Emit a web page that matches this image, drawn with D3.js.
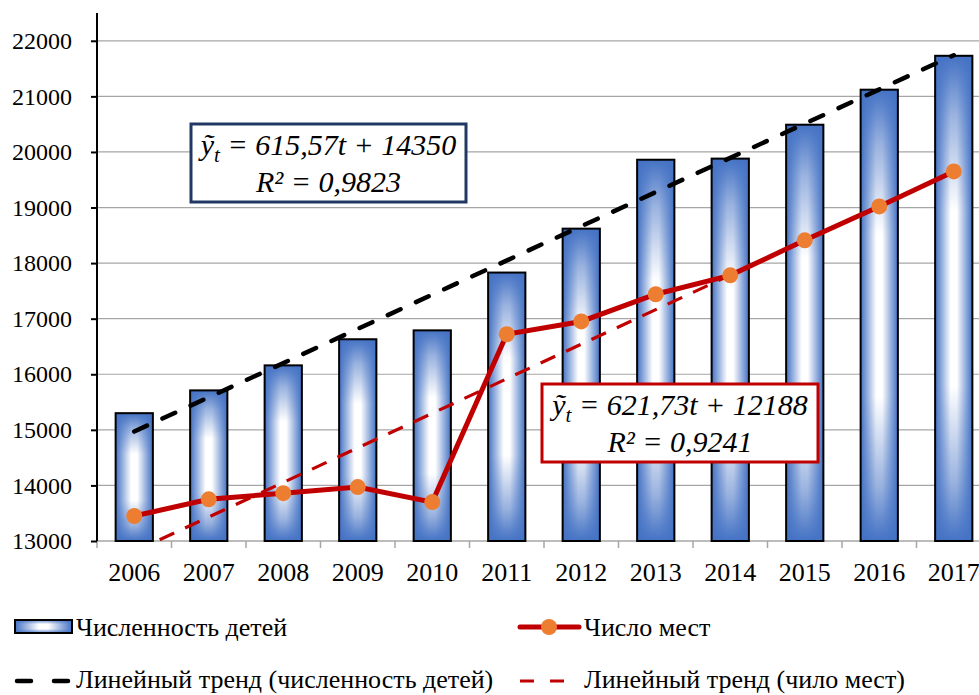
<!DOCTYPE html>
<html>
<head>
<meta charset="utf-8">
<script src="https://cdn.jsdelivr.net/npm/d3@7"></script>
<style>
  body { margin: 0; background: #fff; }
</style>
</head>
<body>
<svg id="chart" width="979" height="695"></svg>
<script>
const svg = d3.select("#chart");

const years = ["2006", "2007", "2008", "2009", "2010", "2011", "2012", "2013", "2014", "2015", "2016", "2017"];
const children = [15300, 15710, 16160, 16630, 16790, 17830, 18620, 19860, 19880, 20490, 21120, 21730];
const places = [13450, 13750, 13860, 13970, 13700, 16720, 16950, 17440, 17780, 18410, 19020, 19650];
// trend line end points (first and last year)
const trendChildren = [14970, 21740];
const trendPlaces = [12810, 19650];
const yTicks = [13000, 14000, 15000, 16000, 17000, 18000, 19000, 20000, 21000, 22000];

const plot = { left: 97, right: 991, top: 13, bottom: 541 };
const blue = "#4472c4";
const FONT = "Liberation Serif";

const x = d3.scaleBand().domain(years).range([plot.left, plot.right]).paddingInner(0.5).paddingOuter(0.25);
const xTick = d3.scaleBand().domain(years).range([plot.left, plot.right]);
const y = d3.scaleLinear().domain([13000, 22500]).range([plot.bottom, plot.top]);
const cx = (yr) => x(yr) + x.bandwidth() / 2;

// gradients: blue edges, white centre
const defs = svg.append("defs");
const gh = defs.append("linearGradient").attr("id", "barH").attr("x1", 0).attr("x2", 1).attr("y1", 0).attr("y2", 0);
[[0, blue], [0.42, "#ffffff"], [0.58, "#ffffff"], [1, blue]].forEach(([o, c]) =>
  gh.append("stop").attr("offset", o).attr("stop-color", c));
const gv = defs.append("linearGradient").attr("id", "barV").attr("x1", 0).attr("x2", 0).attr("y1", 0).attr("y2", 1);
[[0, 1], [0.12, 0.55], [0.32, 0], [0.68, 0], [0.88, 0.55], [1, 1]].forEach(([o, a]) =>
  gv.append("stop").attr("offset", o).attr("stop-color", blue).attr("stop-opacity", a));
defs.append("clipPath").attr("id", "plotClip").append("rect")
  .attr("x", plot.left).attr("y", plot.top).attr("width", 979 - plot.left).attr("height", plot.bottom - plot.top);

// grid
svg.append("g").selectAll("line").data(yTicks.slice(1)).join("line")
  .attr("x1", plot.left).attr("x2", 979)
  .attr("y1", (d) => y(d)).attr("y2", (d) => y(d))
  .attr("stroke", "#a6a6a6").attr("stroke-width", 1.2);

// x axis
const xAxis = svg.append("g").attr("transform", `translate(0,${plot.bottom})`);
xAxis.append("line").attr("x1", plot.left).attr("x2", 979).attr("stroke", "#a6a6a6").attr("stroke-width", 1.5);
xAxis.selectAll("line.tk").data(years).join("line").attr("class", "tk")
  .attr("x1", (d) => xTick(d)).attr("x2", (d) => xTick(d)).attr("y1", 0).attr("y2", 7)
  .attr("stroke", "#a6a6a6").attr("stroke-width", 1.5);
xAxis.selectAll("text").data(years).join("text")
  .attr("x", (d) => cx(d)).attr("y", 40).attr("text-anchor", "middle")
  .attr("font-family", FONT).attr("font-size", 26).attr("fill", "#000").text((d) => d);

// bars
const bars = svg.append("g").selectAll("g").data(years.map((yr, i) => ({ yr, v: children[i] }))).join("g");
bars.append("rect").attr("fill", "url(#barH)");
bars.append("rect").attr("fill", "url(#barV)");
bars.append("rect").attr("fill", "none").attr("stroke", "#000").attr("stroke-width", 2);
bars.selectAll("rect")
  .attr("x", (d) => x(d.yr)).attr("width", x.bandwidth())
  .attr("y", (d) => y(d.v)).attr("height", (d) => plot.bottom - y(d.v));

// y axis
const yAxis = svg.append("g").attr("transform", `translate(${plot.left},0)`)
  .call(d3.axisLeft(y).tickValues(yTicks).tickSize(6).tickPadding(19).tickFormat(d3.format("d")));
yAxis.attr("font-family", FONT).attr("font-size", 24);
yAxis.select(".domain").attr("stroke", "#000").attr("stroke-width", 2).attr("d", `M0,${plot.top}V${plot.bottom}`);
yAxis.selectAll(".tick line").attr("stroke", "#000").attr("stroke-width", 2);
yAxis.selectAll(".tick text").attr("fill", "#000").attr("font-family", FONT);

// trend lines
const trends = svg.append("g").attr("clip-path", "url(#plotClip)");
const endYears = [years[0], years[years.length - 1]];
const line = d3.line().x((d) => cx(d[0])).y((d) => y(d[1]));
trends.append("path").attr("d", line(endYears.map((yr, i) => [yr, trendPlaces[i]])))
  .attr("fill", "none").attr("stroke", "#c00000").attr("stroke-width", 3.2).attr("stroke-dasharray", "16 12");

// places line
svg.append("path").attr("d", line(years.map((yr, i) => [yr, places[i]])))
  .attr("fill", "none").attr("stroke", "#c00000").attr("stroke-width", 5);
svg.append("g").selectAll("circle").data(years.map((yr, i) => [yr, places[i]])).join("circle")
  .attr("cx", (d) => cx(d[0])).attr("cy", (d) => y(d[1])).attr("r", 8).attr("fill", "#ed7d31");

trends.append("path").attr("d", line(endYears.map((yr, i) => [yr, trendChildren[i]])))
  .attr("fill", "none").attr("stroke", "#000").attr("stroke-width", 4.5)
  .attr("stroke-linecap", "round").attr("stroke-dasharray", "14 17");

// equation boxes
function eqBox(bx, by, bw, bh, color, a, b, r2) {
  const g = svg.append("g");
  g.append("rect").attr("x", bx).attr("y", by).attr("width", bw).attr("height", bh)
    .attr("fill", "#fff").attr("stroke", color).attr("stroke-width", 3);
  const t1 = g.append("text").attr("font-family", FONT).attr("font-style", "italic").attr("font-size", 30)
    .attr("x", bx + bw / 2).attr("y", by + 31).attr("text-anchor", "middle");
  t1.append("tspan").text("ỹ");
  t1.append("tspan").attr("font-size", 21).attr("dy", 7).text("t");
  t1.append("tspan").attr("dy", -7).text(` = ${a}t + ${b}`);
  g.append("text").attr("font-family", FONT).attr("font-style", "italic").attr("font-size", 30)
    .attr("x", bx + bw / 2).attr("y", by + 68).attr("text-anchor", "middle")
    .text(`R² = ${r2}`);
}
eqBox(191, 124, 275, 78, "#203864", "615,57", "14350", "0,9823");
eqBox(542, 384, 276, 78, "#c00000", "621,73", "12188", "0,9241");

// legend
const lg = svg.append("g");
const label = (tx, ty, s) => lg.append("text").attr("x", tx).attr("y", ty)
  .attr("font-family", FONT).attr("font-size", 26).attr("fill", "#000").text(s);

lg.append("rect").attr("x", 15).attr("y", 620).attr("width", 57).attr("height", 13).attr("fill", "url(#barH)");
lg.append("rect").attr("x", 15).attr("y", 620).attr("width", 57).attr("height", 13).attr("fill", "url(#barV)");
lg.append("rect").attr("x", 15).attr("y", 620).attr("width", 57).attr("height", 13)
  .attr("fill", "none").attr("stroke", "#000").attr("stroke-width", 2);
label(76, 636, "Численность детей");

lg.append("line").attr("x1", 520).attr("x2", 579).attr("y1", 627).attr("y2", 627)
  .attr("stroke", "#c00000").attr("stroke-width", 5).attr("stroke-linecap", "round");
lg.append("circle").attr("cx", 549).attr("cy", 627).attr("r", 8).attr("fill", "#ed7d31");
label(584, 636, "Число мест");

lg.append("line").attr("x1", 17).attr("x2", 70).attr("y1", 681).attr("y2", 681)
  .attr("stroke", "#000").attr("stroke-width", 4.5).attr("stroke-linecap", "round").attr("stroke-dasharray", "14 23");
label(76, 688, "Линейный тренд (численность детей)");

lg.append("line").attr("x1", 520).attr("x2", 565).attr("y1", 681).attr("y2", 681)
  .attr("stroke", "#c00000").attr("stroke-width", 3.2).attr("stroke-dasharray", "14 16");
label(584, 688, "Линейный тренд (чило мест)");
</script>
</body>
</html>
